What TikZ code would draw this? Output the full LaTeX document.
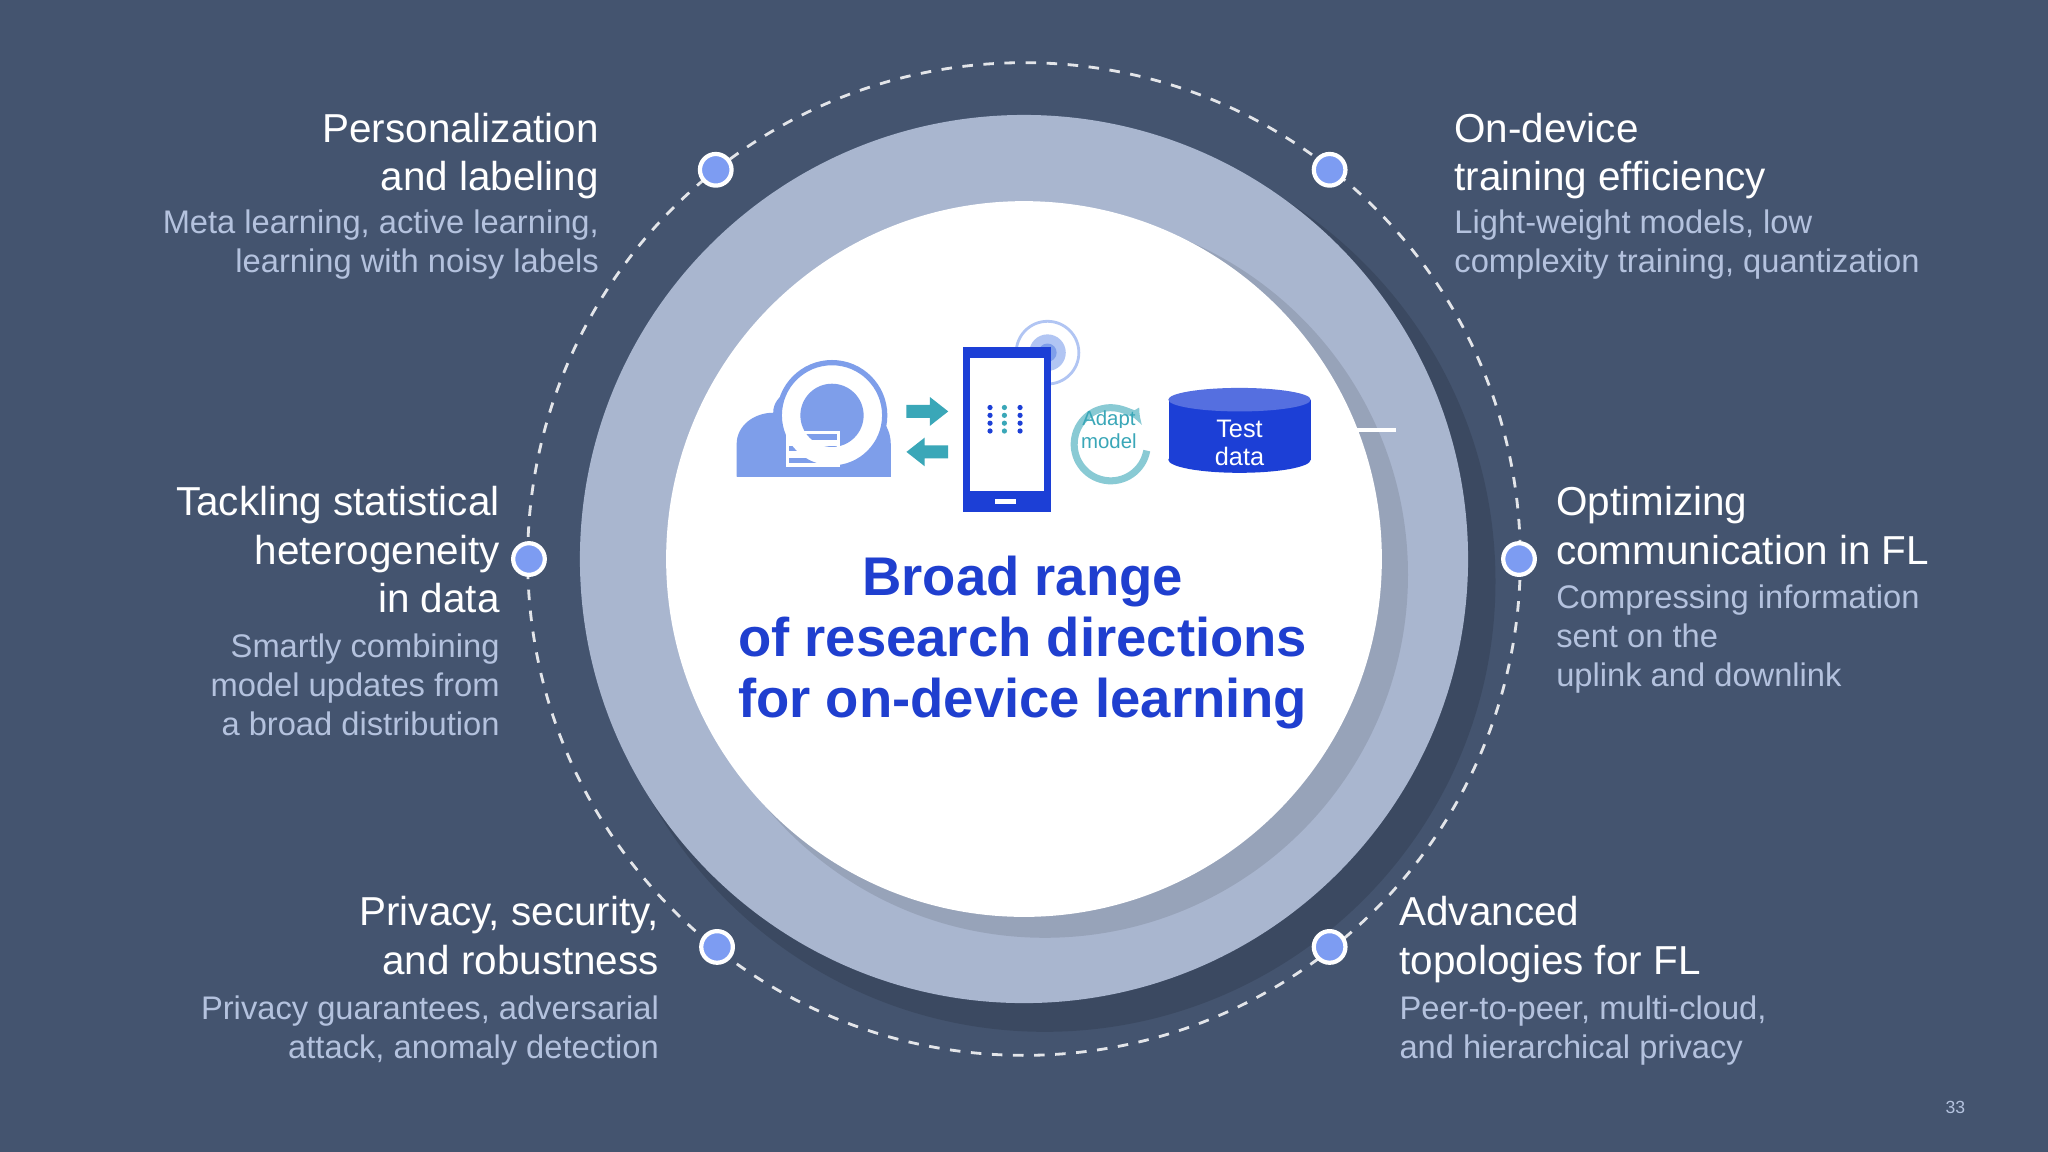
\documentclass[tikz,border=0pt]{standalone}
\usepackage{fontspec}
\setmainfont{Liberation Sans}
\usetikzlibrary{shapes.geometric,arrows.meta}
\definecolor{bg}{HTML}{44546F}
\definecolor{ring}{HTML}{A9B6CF}
\definecolor{sub}{HTML}{B4C2DE}
\definecolor{ttl}{HTML}{1F3FCF}
\definecolor{dotc}{HTML}{7D9CF2}
\definecolor{cloudc}{HTML}{7E9EEA}
\definecolor{teal}{HTML}{3AA7B8}
\definecolor{dbc}{HTML}{1C3FD6}
\tikzset{
 head/.style={text=white,font=\fontsize{11.5}{13.8}\selectfont,inner sep=0pt},
 subt/.style={text=sub,font=\fontsize{9.3}{11.1}\selectfont,inner sep=0pt},
 pin/.style={circle,fill=dotc,draw=white,line width=1.2pt,minimum size=9pt,inner sep=0pt},
}
\begin{document}
\begin{tikzpicture}[x=0.013061cm,y=-0.013061cm]
\fill[bg] (0,0) rectangle (1568,882);
\useasboundingbox (0,0) rectangle (1568,882);
% shadows
\fill[black,opacity=0.12] (800,445) circle (345);
\fill[ring] (784,428) circle (340);
\fill[black,opacity=0.10] (800,440) circle (278);
\fill[white] (784,428) circle (274);
\draw[white!85!bg,dashed,line width=0.8pt] (784,428) circle (380);
% pins
\node[pin] (p1) at (548,130) {};
\node[pin] (p2) at (1018,130) {};
\node[pin] (p3) at (405,428) {};
\node[pin] (p4) at (1163,428) {};
\node[pin] (p5) at (549,725) {};
\node[pin] (p6) at (1018,725) {};
% texts
\node[head,anchor=north east,align=right] (h1) at (459,86) {Personalization\\and labeling};
\node[subt,anchor=north east,align=right] (s1) at (459,160) {Meta learning, active learning,\\learning with noisy labels};
\node[head,anchor=north west,align=left] (h2) at (1113,86) {On-device\\training efficiency};
\node[subt,anchor=north west,align=left] (s2) at (1113,160) {Light-weight models, low\\complexity training, quantization};
\node[head,anchor=north east,align=right] (h3) at (383,372) {Tackling statistical\\heterogeneity\\in data};
\node[subt,anchor=north east,align=right] (s3) at (383,485) {Smartly combining\\model updates from\\a broad distribution};
\node[head,anchor=north west,align=left] (h4) at (1191,372) {Optimizing\\communication in FL};
\node[subt,anchor=north west,align=left] (s4) at (1191,447) {Compressing information\\sent on the\\uplink and downlink};
\node[head,anchor=north east,align=right] (h5) at (505,686) {Privacy, security,\\and robustness};
\node[subt,anchor=north east,align=right] (s5) at (505,762) {Privacy guarantees, adversarial\\attack, anomaly detection};
\node[head,anchor=north west,align=left] (h6) at (1071,686) {Advanced\\topologies for FL};
\node[subt,anchor=north west,align=left] (s6) at (1071,762) {Peer-to-peer, multi-cloud,\\and hierarchical privacy};
\node[text=sub,font=\fontsize{5}{6}\selectfont] (pg) at (1497,848) {33};
% title
\node[text=ttl,font=\bfseries\fontsize{15.5}{17.4}\selectfont,align=center] (title) at (783,492) {Broad range\\of research directions\\for on-device learning};
% cloud
\fill[cloudc] (564,365) -- (564,340) to[out=90,in=180] (592,316) to[out=90,in=180] (622,296) to[out=0,in=120] (655,312) to[out=0,in=90] (682,340) -- (682,352) to[out=-90,in=0] (668,365) -- cycle;
\fill[cloudc] (564,340) rectangle (682,365);
\node[circle,fill=white,draw=cloudc,line width=1.5pt,minimum size=30pt,inner sep=0pt] (brain) at (637,318) {};
\node[circle,fill=cloudc,minimum size=18pt] (brain2) at (637,318) {};
\foreach \yy in {331,340,349}{\draw[white,line width=1pt] (603,\yy) rectangle (642,\yy+7);}
% arrows
\fill[teal] (694,310) -- (712,310) -- (712,304) -- (726,315) -- (712,326) -- (712,320) -- (694,320) -- cycle;
\fill[teal] (726,341) -- (708,341) -- (708,335) -- (694,346) -- (708,357) -- (708,351) -- (726,351) -- cycle;
% phone
\draw[cloudc!60,line width=0.8pt] (802,270) circle (24);
\fill[cloudc!60] (802,270) circle (14);
\fill[cloudc] (802,270) circle (7);
\fill[dbc] (737,266) rectangle (805,392);
\fill[white] (743,274) rectangle (799,376);
\fill[white] (762,382) rectangle (778,386);
\foreach \yy in {312,318,324,330}{\fill[dbc] (758,\yy) circle (2); \fill[teal] (769,\yy) circle (2); \fill[dbc] (781,\yy) circle (2);}
% adapt
\draw[teal!60,line width=2pt,-{Latex[length=5pt]}] (878,345) arc (10:330:28);
\node[text=teal,font=\fontsize{5.8}{6.4}\selectfont,align=center] (adapt) at (849,329) {Adapt\\model};
% database
\node[cylinder,shape border rotate=90,aspect=0.22,fill=dbc,draw=white,line width=0.8pt,minimum width=110\pgflinewidth,minimum height=0pt,inner sep=0pt,text width=0pt] (db0) at (949,330) {};
\fill[dbc] (895,306) rectangle (1004,352);
\fill[dbc] (949,352) ellipse (54.5 and 10);
\fill[dbc!75!white] (949,306) ellipse (54.5 and 9);
\node[text=white,font=\fontsize{7.2}{7.8}\selectfont,align=center] (db) at (949,339) {Test\\data};
\end{tikzpicture}
\end{document}
